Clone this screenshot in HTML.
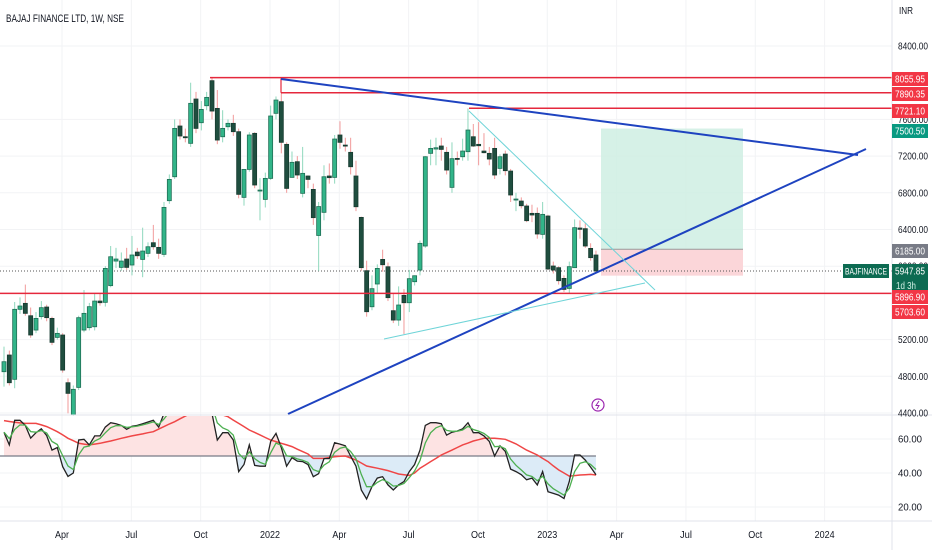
<!DOCTYPE html>
<html><head><meta charset="utf-8"><style>
html,body{margin:0;padding:0;background:#fff;}
svg{display:block;font-family:"Liberation Sans",sans-serif;}
</style></head><body>
<svg id="chart" width="932" height="550" viewBox="0 0 932 550">
<g id="grid"></g>
<text x="6" y="22" font-size="11" fill="#131722" textLength="118" lengthAdjust="spacingAndGlyphs">BAJAJ FINANCE LTD, 1W, NSE</text>
<g id="drawings-back"></g>
<g id="candles"></g>
<g id="drawings"></g>
<g id="osc"></g>
<g id="axes"></g>
</svg>
<script>
const opens=[4850,5032,4767,5530,5595,5460,5304,5450,5555,5431,5224,5250,4730,4378,4679,5304,5330,5340,5620,5606,5788,6056,5987,6078,6013,6154,6074,6140,6256,6205,6129,6714,6975,7528,7411,7339,7822,7564,7749,8022,7720,7411,7520,7557,7466,6750,7055,7448,6830,6728,6957,7666,7793,7328,6968,7139,6794,6983,6837,6335,6587,6983,6968,7430,7320,7241,6983,6532,5951,5558,5806,6074,5994,5515,5413,5682,5602,5831,5958,6220,7230,7277,7310,7241,6859,7175,7193,7248,7411,7328,7255,7230,7284,7066,7222,7037,6732,6710,6656,6576,6576,6347,6547,6002,5984,5867,5758,5984,6416,6409,6194,6122];
const closes=[4959,4730,5530,5566,5486,5250,5431,5548,5439,5170,5268,4868,4614,4658,5439,5486,5559,5620,5602,5976,6103,6078,6056,5987,6122,6114,6165,6212,6212,6140,6641,6946,7502,7419,7400,7775,7502,7709,7840,7691,7375,7502,7557,7466,6783,7055,7430,6885,6830,6957,7637,7811,7350,6848,7132,6994,7012,6946,6529,6650,6975,6965,7386,7350,7310,7084,6648,5984,5504,5755,5976,6016,5657,5413,5577,5602,5864,5896,6249,7193,7284,7291,7273,7048,7172,7164,7255,7484,7310,7313,7237,7168,6994,7193,7041,6776,6732,6659,6496,6558,6351,6565,5969,5958,5842,5747,5995,6420,6402,6220,6093,5947.85];
const highs=[5123,5080,5610,5660,5800,5550,5500,5620,5580,5450,5330,5270,4777,4700,5460,5740,5600,5700,5700,6000,6220,6200,6150,6200,6330,6200,6420,6260,6450,6300,6700,7000,7600,7600,7500,8000,7900,7800,7900,8056,7920,7700,7600,7650,7500,7060,7460,7460,6960,7020,7750,7850,7890,7350,7250,7200,7300,6990,6900,6700,7100,7120,7430,7580,7400,7400,7150,6540,6060,5900,6020,6180,6040,5700,5780,5750,5960,5900,6280,7200,7380,7400,7400,7300,7350,7250,7390,7720,7550,7570,7450,7300,7400,7220,7260,7060,6800,6750,6680,6670,6640,6700,6560,6050,6000,5900,6050,6510,6500,6470,6250,6170];
const lows=[4687,4700,4670,5480,5460,5220,5270,5420,5400,5140,5200,4840,4396,4370,4650,5280,5300,5300,5570,5560,5770,5980,5950,5960,5900,6080,5880,6100,6180,6080,6100,6680,6950,7380,7350,7300,7450,7480,7700,7600,7330,7350,7480,7420,6740,6660,7030,6850,6500,6640,6940,7600,7230,6800,7000,6950,6750,6850,6450,5950,6500,6900,6900,7280,7250,7000,6600,5950,5450,5520,5700,5940,5620,5380,5350,5260,5500,5790,5900,6200,7100,7100,7150,7000,6800,7100,7150,7150,7300,7100,7230,7100,6950,7000,6990,6700,6600,6630,6480,6480,6300,6300,5960,5920,5800,5720,5700,5980,6300,6200,6060,5930];
const rsi=[64,56.5,71,71,68,60.5,63.7,66,62,53.5,55,43.7,38,40,59.4,59.8,56.5,61.8,61.8,67,69.6,69,68,65.7,67.5,68,69,70,71,67,75,80,83,84,82,85,84,83,85,75,59.4,63.7,63.7,59.4,40.8,45,56.5,44.5,44,44,58.6,63.3,55,44,49,47,46.7,45,37.8,39.6,48.5,48.5,57.8,57,56,50,44,30,24.7,32,37,37.8,33,30,33,35,40.8,45,53.5,68,69.6,69.6,69,62.3,64,64.7,66,69.6,63.7,63.7,61.8,58.6,50,56,52.7,42.3,40.8,39,36,37,33,40.8,29,28,27,25,35,50.6,50.6,47.6,43.5,39];
const rsiMa=[70.8,70.3,69.8,69.5,69.2,69.2,69.2,68.3,67.3,65.8,64.3,62.4,60.4,59,57.5,57,56.5,57,57.5,58.2,58.8,59.6,60.4,61.1,61.8,62.4,63,63.7,64.3,65.8,67.3,68.8,70.2,71.9,73.5,75,76,77,77,76,75,74.1,73.1,71.1,69.2,67.3,65.3,63.9,62.4,60.9,59.4,58.5,57.5,56.5,55.5,54,52.6,51.2,48.6,48.6,48.6,49.1,49.6,49.8,50,48.8,47.6,45.9,44.1,43.5,42.8,42.1,41.4,40.4,39.4,39,38.6,40,42.8,44.7,46.7,48.6,50.6,52,53.5,55,56.5,57.6,58.8,59.6,60.4,60.4,60.4,60.1,59.8,58.5,57.1,55.3,53.5,52,50.6,48.6,46.7,44.2,41.8,40,38.2,38.5,38.8,39,39.2,38.8];
const priceTicks=[8400,7600,7200,6800,6400,6000,5200,4800,4400];
const oscTicks=[60,40,20];
const timeLabels=["Apr","Jul","Oct","2022","Apr","Jul","Oct","2023","Apr","Jul","Oct","2024"];
const timeLabelWeeks=[11,24,37,50,63,76,89,102,115,128,141,154];
const levels=[8055.95,7890.35,7721.10,5703.60];

const NS="http://www.w3.org/2000/svg";
const PW=892;
function y(p){return 46+(8400-p)*0.09175;}
function x(i){return 4+i*5.333;}
function xw(w){return 4+(w-11)*5.333+ (62-4);}
function yo(v){return 456-(v-50)*1.7;}
function mk(parent,tag,attrs){const e=document.createElementNS(NS,tag);for(const k in attrs)e.setAttribute(k,attrs[k]);document.getElementById(parent).appendChild(e);return e;}

priceTicks.forEach(p=>{const l=mk('grid','line',{x1:0,x2:PW,y1:y(p),y2:y(p),stroke:'#f2f3f5','stroke-width':1});

});
timeLabelWeeks.forEach(w=>{const l=mk('grid','line',{x1:xw(w),x2:xw(w),y1:0,y2:521,stroke:'#f2f3f5','stroke-width':1});

});
oscTicks.forEach(v=>{const l=mk('grid','line',{x1:0,x2:PW,y1:yo(v),y2:yo(v),stroke:'#f2f3f5','stroke-width':1});

});

const gb=mk('drawings-back','rect',{x:601,y:y(7500.5),width:142,height:y(6185)-y(7500.5),fill:'#cfeee3',opacity:0.85});


const rb=mk('drawings-back','rect',{x:601,y:y(6185),width:142,height:y(5896.9)-y(6185),fill:'#fbd6d9'});


const ml=mk('drawings-back','line',{x1:601,x2:743,y1:y(6185),y2:y(6185),stroke:'#9a9a9a','stroke-width':1});


const dl=mk('drawings-back','line',{x1:0,x2:PW,y1:y(5947.85),y2:y(5947.85),stroke:'#555','stroke-width':1,'stroke-dasharray':'1 2'});



const last=opens.length-1;
for(let i=0;i<opens.length;i++){
 const o=opens[i],c=closes[i],up=c>=o,cx=x(i);
 const w=mk('candles','line',{x1:cx,x2:cx,y1:y(highs[i]),y2:y(lows[i]),stroke:up?'#8fd8bd':'#f19a9a','stroke-width':1});
 
 
 const top=y(Math.max(o,c)),bot=y(Math.min(o,c));
 const b=mk('candles','rect',{x:cx-2,y:top,width:4,height:Math.max(1,bot-top),fill:up?'#32b589':'#1f4e3f',stroke:up?'#1f6e55':'#173b30','stroke-width':0.8});
 
 
}

function dline(x1,y1,x2,y2,col,w,name){const l=mk('drawings','line',{x1,y1,x2,y2,stroke:col,'stroke-width':w});

}
dline(210,y(levels[0]),PW,y(levels[0]),'#e5283c',1.5,'resistance-8055');
dline(281,y(levels[1]),PW,y(levels[1]),'#e5283c',1.5,'resistance-7890');
dline(281,y(levels[0])+1,281,y(levels[1]),'#e5283c',1.2,'resistance-7890-tick');
dline(469,y(levels[2]),PW,y(levels[2]),'#e5283c',1.5,'resistance-7721');
dline(0,y(levels[3]),PW,y(levels[3]),'#e5283c',1.5,'support-5703');
dline(281,79,858,155,'#1e43c0',2,'upper-trendline');
dline(288,414,866,149,'#1e43c0',2,'lower-trendline');
dline(469,111,655,290,'#6fd4d8',1,'falling-trendline');
dline(384,339,645,283,'#6fd4d8',1,'rising-trendline');

const div=mk('osc','line',{x1:0,x2:932,y1:415,y2:415,stroke:'#e0e3eb','stroke-width':1});


let defs=mk('osc','defs',{});
defs.innerHTML='<clipPath id="cpane"><rect x="0" y="416" width="892" height="105"/></clipPath><clipPath id="cabove"><rect x="0" y="416" width="892" height="40"/></clipPath><clipPath id="cbelow"><rect x="0" y="456" width="892" height="65"/></clipPath>';
let poly='M'+x(0)+','+yo(50);
rsi.forEach((v,i)=>poly+=' L'+x(i)+','+yo(v));
poly+=' L'+x(last)+','+yo(50)+' Z';
const g=mk('osc','g',{'clip-path':'url(#cpane)'});


function gp(tag,a,name){const e=document.createElementNS(NS,tag);for(const k in a)e.setAttribute(k,a[k]);g.appendChild(e);

return e;}
gp('path',{d:poly,fill:'#fde3e3','clip-path':'url(#cabove)'},'osc-fill-above');
gp('path',{d:poly,fill:'#dcebf7','clip-path':'url(#cbelow)'},'osc-fill-below');
gp('line',{x1:0,x2:x(last),y1:yo(50),y2:yo(50),stroke:'#787b86','stroke-width':1.3},'osc-midline');
function lp(arr){return arr.map((v,i)=>(i?'L':'M')+x(i).toFixed(1)+','+yo(v).toFixed(1)).join(' ');}
const green=[];let e=rsi[0];rsi.forEach((v,i)=>{e=i?e*0.5+v*0.5:v;green.push(e);});
gp('path',{d:lp(rsiMa),fill:'none',stroke:'#ef4646','stroke-width':1.5},'osc-slow-ma');
gp('path',{d:lp(rsi),fill:'none',stroke:'#222','stroke-width':1.3},'rsi-line');
gp('path',{d:lp(green),fill:'none',stroke:'#4caf50','stroke-width':1.3},'rsi-fast-ma');

const ax=mk('axes','line',{x1:PW,x2:PW,y1:0,y2:550,stroke:'#e0e3eb','stroke-width':1});


const tx=mk('axes','line',{x1:0,x2:932,y1:521,y2:521,stroke:'#e0e3eb','stroke-width':1});


function txt(xx,yy,s,name,col,sz,anchor,tl){const a={x:xx,y:yy,'font-size':sz||10,fill:col||'#131722','text-anchor':anchor||'start'};if(tl){a.textLength=tl;a.lengthAdjust='spacingAndGlyphs';}
const t=mk('axes','text',a);t.textContent=s;

return t;}
txt(899,14,'INR','currency-label','#131722',10,'start',14);
priceTicks.forEach(p=>txt(898,y(p)+3.5,p.toFixed(2),'price-tick-label','#131722',10,'start',30));
oscTicks.forEach(v=>txt(898,yo(v)+3.5,v.toFixed(2),'osc-tick-label','#131722',10,'start',24));
timeLabels.forEach((s,k)=>txt(xw(timeLabelWeeks[k]),538,s,'time-tick-label','#131722',10,'middle',s.length>3?20:s==='Jul'?12:14));
function badge(cy,h,col,s,name){const r=mk('axes','rect',{x:PW,y:cy-7,width:36,height:h,fill:col});


txt(895,cy+3.5,s,name+'-text','#fff',10,'start',30);}
badge(79,14,'#f23645','8055.95','badge-8055');
badge(94,14,'#f23645','7890.35','badge-7890');
badge(111,14,'#f23645','7721.10','badge-7721');
badge(131,14,'#089981','7500.50','badge-7500');
badge(251,14,'#787b86','6185.00','badge-6185');
badge(271,28,'#0d6b52','5947.85','badge-last');
txt(896,289,'1d 3h','countdown-text','#d0f0e4',10,'start',20);
badge(297,14,'#f23645','5896.90','badge-5896');
badge(312,14,'#f23645','5703.60','badge-5703');
const sb=mk('axes','rect',{x:843,y:264,width:46,height:14,fill:'#0d6b52'});


txt(845,274.5,'BAJFINANCE','symbol-badge-text','#fff',9,'start',42);
const ic=mk('axes','circle',{cx:598,cy:405,r:6,fill:'#fff',stroke:'#9c27b0','stroke-width':1.2});


const bolt=mk('axes','path',{d:'M599,401 L596,405.5 L599,405.5 L597,409',fill:'none',stroke:'#9c27b0','stroke-width':1});


</script>
</body></html>
